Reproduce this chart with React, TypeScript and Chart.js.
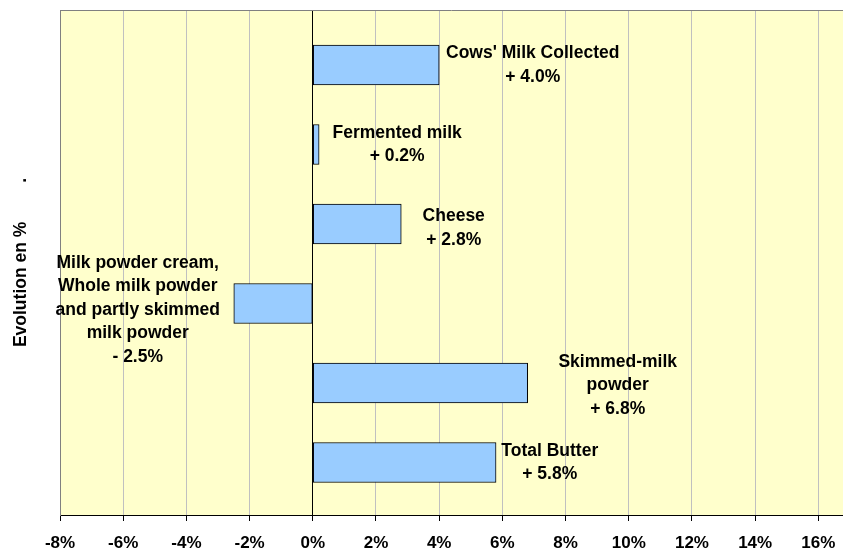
import React, { useEffect, useRef } from "react";
import { Chart, registerables } from "chart.js";

Chart.register(...registerables);

// ---- data ----
const categories = [
  "Cows' Milk Collected",
  "Fermented milk",
  "Cheese",
  "Milk powder cream, Whole milk powder and partly skimmed milk powder",
  "Skimmed-milk powder",
  "Total Butter",
];
const changes = [4.0, 0.2, 2.8, -2.5, 6.8, 5.8];
const labelLines = [
  ["Cows' Milk Collected"],
  ["Fermented milk"],
  ["Cheese"],
  ["Milk powder cream,", "Whole milk powder", "and partly skimmed", "milk powder"],
  ["Skimmed-milk", "powder"],
  ["Total Butter"],
];
const xTicks = [-8, -6, -4, -2, 0, 2, 4, 6, 8, 10, 12, 14, 16];
const xMin = -8;
const xMax = 16.78;
const yTitle = "Evolution en %\u00A0\u00A0\u00A0\u00A0\u00A0\u00A0\u00A0\u00A0.";

// label anchors in data units (x in %, y offset in category units)
const labelX = [6.96, 2.67, 4.46, -5.54, 9.65, 7.5];
const labelDy = [0, 0, 0.05, 0.08, 0.03, 0];

const FONT = "'Liberation Sans', Arial, Helvetica, sans-serif";

function fmt(v: number) {
  return (v < 0 ? "- " : "+ ") + Math.abs(v).toFixed(1) + "%";
}

const decorPlugin = {
  id: "decor",
  beforeDraw(chart: any) {
    const { ctx, chartArea: a } = chart;
    ctx.save();
    ctx.fillStyle = "#FFFFCC";
    ctx.fillRect(a.left, a.top, a.right - a.left, a.bottom - a.top);
    ctx.restore();
  },
  afterDraw(chart: any) {
    const { ctx, chartArea: a } = chart;
    ctx.save();
    ctx.strokeStyle = "#808080";
    ctx.lineWidth = 1;
    ctx.beginPath();
    ctx.moveTo(a.left, Math.round(a.top) + 0.5);
    ctx.lineTo(a.right, Math.round(a.top) + 0.5);
    ctx.stroke();
    ctx.restore();
  },
};

const labelPlugin = {
  id: "barLabels",
  afterDatasetsDraw(chart: any) {
    const { ctx } = chart;
    const xs = chart.scales.x;
    const ys = chart.scales.y;
    ctx.save();
    ctx.font = `bold 17.5px ${FONT}`;
    ctx.fillStyle = "#000";
    ctx.textAlign = "center";
    ctx.textBaseline = "middle";
    const lh = 23.5;
    changes.forEach((v, i) => {
      const lines = [...labelLines[i], fmt(v)];
      const cx = xs.getPixelForValue(labelX[i]);
      const cy = ys.getPixelForValue(i + 1 + labelDy[i]);
      const n = lines.length;
      lines.forEach((t, j) => {
        ctx.fillText(t, cx, cy + (j - (n - 1) / 2) * lh);
      });
    });
    ctx.restore();
  },
};

export default function App() {
  const ref = useRef<HTMLCanvasElement | null>(null);

  useEffect(() => {
    document.body.style.margin = "0";
    const canvas = ref.current;
    if (!canvas) return;
    const chart = new Chart(canvas, {
      type: "bar",
      data: {
        datasets: [
          {
            label: "Evolution",
            data: changes.map((v, i) => ({ x: v, y: i + 1 })),
            backgroundColor: "#99CCFF",
            borderColor: "#000000",
            borderWidth: 1,
            borderSkipped: false,
            barThickness: 40,
          } as any,
        ],
      },
      options: {
        indexAxis: "y",
        responsive: false,
        animation: false,
        devicePixelRatio: 1,
        layout: { padding: { top: 10, right: 0, bottom: 0, left: 0 } },
        plugins: {
          legend: { display: false },
          tooltip: { enabled: false },
          title: { display: false },
        },
        scales: {
          x: {
            type: "linear",
            position: "bottom",
            offset: false,
            min: xMin,
            max: xMax,
            afterBuildTicks: (scale: any) => {
              scale.ticks = xTicks.map((v) => ({ value: v }));
            },
            afterFit: (scale: any) => {
              scale.height = 38;
              scale.paddingLeft = 0;
              scale.paddingRight = 0;
            },
            ticks: {
              color: "#000",
              padding: 12,
              maxRotation: 0,
              autoSkip: false,
              font: { family: FONT, size: 17, weight: "bold" },
              callback: (v: any) => `${v}%`,
            },
            grid: {
              offset: false,
              color: (c: any) => {
                const v = c.tick ? c.tick.value : null;
                if (v === 0) return "#000000";
                if (v === xMin) return "#808080";
                return "#C0C0C0";
              },
              lineWidth: 1,
              tickColor: "#000000",
              tickLength: 6,
              drawTicks: true,
            },
            border: { display: true, color: "#000000", width: 1 },
          },
          y: {
            type: "linear",
            reverse: true,
            offset: false,
            min: 0.308,
            max: 6.66,
            afterBuildTicks: (scale: any) => {
              scale.ticks = categories.map((_, i) => ({ value: i + 1 }));
            },
            afterFit: (scale: any) => {
              scale.width = 60;
              scale.paddingTop = 0;
              scale.paddingBottom = 0;
            },
            ticks: { display: false },
            grid: { display: true, offset: false, drawOnChartArea: false, drawTicks: false },
            border: { display: true, color: "#808080", width: 1 },
            title: {
              display: true,
              text: yTitle,
              color: "#000",
              font: { family: FONT, size: 17.5, weight: "bold" },
              padding: { top: 10.5, bottom: 0 },
            },
          },
        },
      },
      plugins: [decorPlugin, labelPlugin],
    } as any);
    return () => chart.destroy();
  }, []);

  return (
    <div style={{ width: 843, height: 553 }}>
      <canvas ref={ref} width={843} height={553} style={{ display: "block" }} />
    </div>
  );
}
